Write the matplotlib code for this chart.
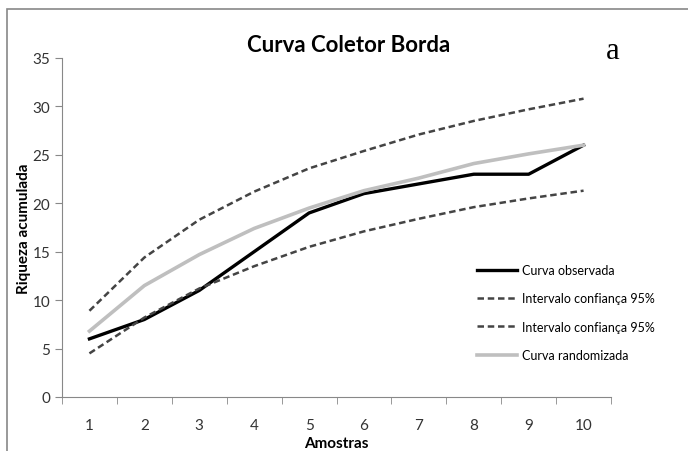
import matplotlib.pyplot as plt
from matplotlib.patches import Rectangle

amostras = [1, 2, 3, 4, 5, 6, 7, 8, 9, 10]
observada = [6, 8, 11, 15, 19, 21, 22, 23, 23, 26]
ic_superior = [8.9, 14.4, 18.3, 21.2, 23.6, 25.4, 27.1, 28.5, 29.7, 30.8]
ic_inferior = [4.5, 8.2, 11.2, 13.5, 15.5, 17.1, 18.4, 19.6, 20.5, 21.3]
randomizada = [6.8, 11.5, 14.7, 17.4, 19.5, 21.3, 22.6, 24.1, 25.1, 26.0]

plt.rcParams['font.family'] = ['Lato', 'DejaVu Sans']

fig = plt.figure(figsize=(6.88, 4.52), dpi=100)
fig.patches.append(Rectangle((7 / 688, -0.05), 1.1, 1 - 10 / 452 + 0.05,
                             transform=fig.transFigure, fill=False,
                             edgecolor='#888888', linewidth=1.2))
ax = fig.add_axes([0.0901, 0.1195, 0.798, 0.75])

ax.plot(amostras, observada, color='black', lw=2.4, label='Curva observada')
ax.plot(amostras, ic_superior, color='#444444', lw=1.8, ls=(0, (2.6, 1.5)),
        label='Intervalo confiança 95%')
ax.plot(amostras, ic_inferior, color='#444444', lw=1.8, ls=(0, (2.6, 1.5)),
        label='Intervalo confiança 95%')
ax.plot(amostras, randomizada, color='#bfbfbf', lw=2.6, label='Curva randomizada')

ax.set_xlim(0.5, 10.5)
ax.set_ylim(0, 35)
ax.set_xticks(amostras)
ax.set_yticks(range(0, 36, 5))
ax.set_xticks([x + 0.5 for x in range(0, 11)], minor=True)
ax.tick_params(axis='x', which='major', length=0, pad=15, labelsize=11, colors='#333333')
ax.tick_params(axis='x', which='minor', length=5, color='#888888', direction='out')
ax.tick_params(axis='y', length=5, color='#888888', labelsize=11, colors='#333333')
for s in ['top', 'right']:
    ax.spines[s].set_visible(False)
for s in ['left', 'bottom']:
    ax.spines[s].set_color('#888888')

ax.set_xlabel('Amostras', fontsize=11, fontweight='bold', labelpad=3)
ax.set_ylabel('Riqueza acumulada', fontsize=11, fontweight='bold', labelpad=1)
fig.text(0.506, 0.9, 'Curva Coletor Borda', ha='center', va='center',
         fontsize=16, fontweight='bold')
fig.text(0.89, 0.886, 'a', ha='center', va='center', fontsize=22,
         family='Liberation Serif')

leg = ax.legend(loc='upper left', bbox_to_anchor=(0.735, 0.425), frameon=False,
                fontsize=9, handlelength=3.2, handletextpad=0.4, labelspacing=1.3)

fig.savefig('out.png', dpi=100)
